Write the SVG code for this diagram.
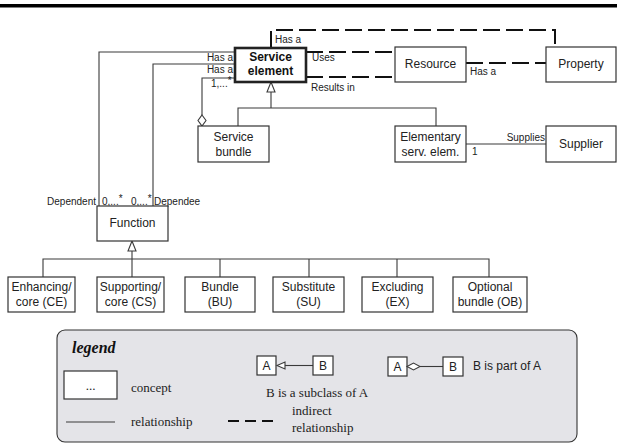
<svg xmlns="http://www.w3.org/2000/svg" width="617" height="444" viewBox="0 0 617 444">
  <style>
    .box { fill: #ffffff; stroke: #333333; stroke-width: 1.2; }
    .key { fill: #ffffff; stroke: #222222; stroke-width: 2.6; }
    .line { fill: none; stroke: #3a3a3a; stroke-width: 1.1; }
    .dash { fill: none; stroke: #111111; stroke-width: 2; stroke-dasharray: 17 6; }
    .t { font-family: "Liberation Sans", Arial, sans-serif; font-size: 12px; fill: #222222; text-anchor: middle; }
    .tb { font-family: "Liberation Sans", Arial, sans-serif; font-size: 12px; font-weight: bold; fill: #111111; text-anchor: middle; }
    .lbl { font-family: "Liberation Sans", Arial, sans-serif; font-size: 10px; fill: #222222; }
    .note { font-family: "Liberation Sans", Arial, sans-serif; font-size: 12px; fill: #222222; }
    .ser { font-family: "Liberation Serif", "Times New Roman", serif; font-size: 13px; fill: #222222; }
    .hollow { fill: #ffffff; stroke: #3a3a3a; stroke-width: 1.1; }
  </style>

  <!-- header rule -->
  <rect x="0" y="4" width="617" height="3.5" fill="#000000"/>

  <!-- connectors -->
  <g id="connectors">
    <!-- dashed (indirect) relationships -->
    <path class="dash" d="M271,48 V30 H555 V47"/>
    <path class="dash" d="M306,52 H395"/>
    <path class="dash" d="M306,77 H395"/>
    <path class="dash" d="M466,63 H546"/>
    <!-- Has a lines to Function -->
    <path class="line" d="M235,52 H99 V206"/>
    <path class="line" d="M235,64 H153 V206"/>
    <!-- aggregation: Service bundle part of Service element -->
    <path class="line" d="M235,78 H202 V115"/>
    <polygon class="hollow" points="202,115 206,120.5 202,126 198,120.5"/>
    <!-- generalisation to Service element -->
    <polygon class="hollow" points="271,82 275,92 267,92"/>
    <path class="line" d="M271,92 V108 M238,126 V108 H436 V126"/>
    <!-- Supplies -->
    <path class="line" d="M466,144 H546"/>
    <!-- generalisation to Function -->
    <polygon class="hollow" points="132,241 136,251 128,251"/>
    <path class="line" d="M132,251 V277 M43,277 V259 H489 V277 M220,259 V277 M309,259 V277 M397,259 V277"/>

    <!-- connector labels -->
    <text class="lbl" x="275" y="43">Has a</text>
    <text class="lbl" x="312" y="61">Uses</text>
    <text class="lbl" x="311" y="91">Results in</text>
    <text class="lbl" x="470" y="75">Has a</text>
    <text class="lbl" x="545" y="141" text-anchor="end">Supplies</text>
    <text class="lbl" x="472" y="155">1</text>
    <text class="lbl" x="233" y="61" text-anchor="end">Has a</text>
    <text class="lbl" x="233" y="73" text-anchor="end">Has a</text>
    <text class="lbl" x="211" y="87">1,...<tspan dy="-3">*</tspan></text>
    <text class="lbl" x="96" y="205" text-anchor="end">Dependent</text>
    <text class="lbl" x="102" y="205">0,...<tspan dy="-3">*</tspan></text>
    <text class="lbl" x="131" y="205">0,...<tspan dy="-3">*</tspan></text>
    <text class="lbl" x="154" y="205">Dependee</text>
  </g>

  <!-- nodes -->
  <g id="service-element">
    <rect class="key" x="235" y="48" width="71" height="34"/>
    <text class="tb" x="270.5" y="61">Service</text>
    <text class="tb" x="270.5" y="75">element</text>
  </g>
  <g id="resource">
    <rect class="box" x="395" y="47" width="71" height="35"/>
    <text class="t" x="430.5" y="68">Resource</text>
  </g>
  <g id="property">
    <rect class="box" x="546" y="47" width="70" height="35"/>
    <text class="t" x="581" y="68">Property</text>
  </g>
  <g id="service-bundle">
    <rect class="box" x="198" y="126" width="71" height="36"/>
    <text class="t" x="233.5" y="141">Service</text>
    <text class="t" x="233.5" y="156">bundle</text>
  </g>
  <g id="elementary-service-element">
    <rect class="box" x="395" y="126" width="71" height="36"/>
    <text class="t" x="430.5" y="141">Elementary</text>
    <text class="t" x="430.5" y="156">serv. elem.</text>
  </g>
  <g id="supplier">
    <rect class="box" x="546" y="126" width="70" height="36"/>
    <text class="t" x="581" y="148">Supplier</text>
  </g>
  <g id="function">
    <rect class="box" x="97" y="206" width="71" height="35"/>
    <text class="t" x="132.5" y="227">Function</text>
  </g>
  <g id="enhancing">
    <rect class="box" x="8" y="277" width="67" height="35"/>
    <text class="t" x="41.5" y="291">Enhancing/</text>
    <text class="t" x="41.5" y="306">core (CE)</text>
  </g>
  <g id="supporting">
    <rect class="box" x="97" y="277" width="67" height="35"/>
    <text class="t" x="130.5" y="291">Supporting/</text>
    <text class="t" x="130.5" y="306">core (CS)</text>
  </g>
  <g id="bundle">
    <rect class="box" x="185" y="277" width="70" height="35"/>
    <text class="t" x="220" y="291">Bundle</text>
    <text class="t" x="220" y="306">(BU)</text>
  </g>
  <g id="substitute">
    <rect class="box" x="273" y="277" width="71" height="35"/>
    <text class="t" x="308.5" y="291">Substitute</text>
    <text class="t" x="308.5" y="306">(SU)</text>
  </g>
  <g id="excluding">
    <rect class="box" x="362" y="277" width="71" height="35"/>
    <text class="t" x="397.5" y="291">Excluding</text>
    <text class="t" x="397.5" y="306">(EX)</text>
  </g>
  <g id="optional-bundle">
    <rect class="box" x="453" y="277" width="74" height="35"/>
    <text class="t" x="490" y="291">Optional</text>
    <text class="t" x="490" y="306">bundle (OB)</text>
  </g>

  <!-- legend -->
  <g id="legend">
    <rect x="57" y="330" width="520" height="112" rx="8" ry="8" fill="#e4e4e8" stroke="#333333" stroke-width="1.1"/>
    <text x="72" y="353" font-family="'Liberation Serif', 'Times New Roman', serif" font-size="16" font-weight="bold" font-style="italic" fill="#111111">legend</text>
    <rect class="box" x="64" y="371" width="53" height="28"/>
    <text class="ser" x="90.5" y="390" text-anchor="middle">...</text>
    <text class="ser" x="131" y="392">concept</text>
    <path class="line" d="M66,422 H115"/>
    <text class="ser" x="131" y="426">relationship</text>
    <path d="M228,421 H273" fill="none" stroke="#111111" stroke-width="2" stroke-dasharray="11 6"/>
    <text class="ser" x="292" y="415">indirect</text>
    <text class="ser" x="292" y="432">relationship</text>

    <rect class="box" x="257" y="356" width="19" height="19"/>
    <text class="t" x="266.5" y="370">A</text>
    <polygon class="hollow" points="277,365.5 285,362 285,369"/>
    <path class="line" d="M285,365.5 H313"/>
    <rect class="box" x="313" y="356" width="20" height="19"/>
    <text class="t" x="323" y="370">B</text>
    <text class="ser" x="266" y="397">B is a subclass of A</text>

    <rect class="box" x="388" y="357" width="19" height="19"/>
    <text class="t" x="397.5" y="371">A</text>
    <polygon class="hollow" points="407,366.5 413.5,363 420,366.5 413.5,370"/>
    <path class="line" d="M420,366.5 H443"/>
    <rect class="box" x="443" y="357" width="20" height="19"/>
    <text class="t" x="453" y="371">B</text>
    <text class="note" x="473" y="370">B is part of A</text>
  </g>
</svg>
